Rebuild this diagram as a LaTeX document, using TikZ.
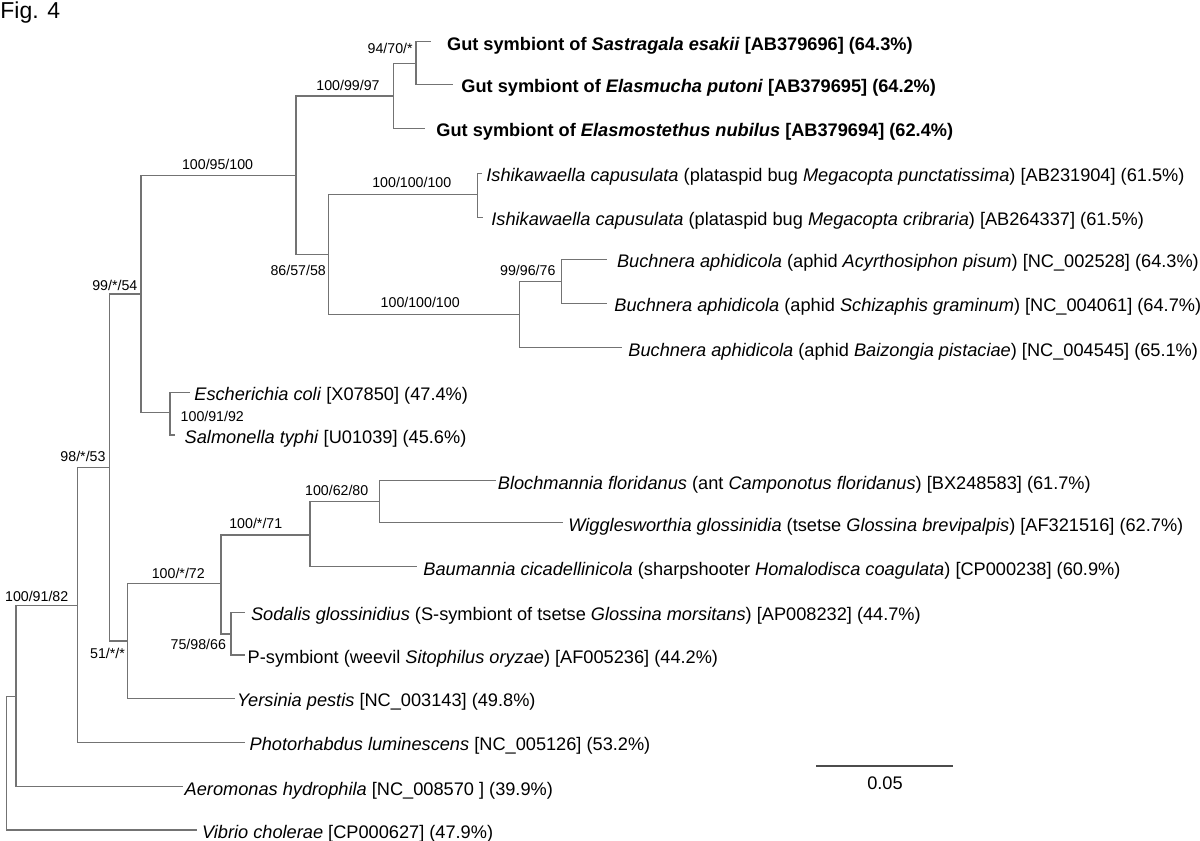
\documentclass[tikz,border=0pt]{standalone}
\usepackage{fontspec}
\setmainfont{Liberation Sans}
\begin{document}
\begin{tikzpicture}[x=0.5pt,y=-0.5pt,
  br/.style={draw=black!55,line width=0.55pt},
  leaf/.style={anchor=base west,inner sep=0pt,font=\fontsize{9.1}{11}\selectfont},
  bs/.style={anchor=base,inner sep=0pt,font=\fontsize{7.1}{8.5}\selectfont},
]
\useasboundingbox (0,0) rectangle (1200,841);
\node[anchor=base west,inner sep=0pt,font=\fontsize{11.5}{13}\selectfont] (fig) at (0,18) {Fig. 4};

% internal nodes
\coordinate (nA) at (416,63.3);
\coordinate (nB) at (393.3,96);
\coordinate (nC) at (477.7,194.3);
\coordinate (nD) at (561.7,281.5);
\coordinate (nE) at (519.3,314.3);
\coordinate (nF) at (328.2,254.3);
\coordinate (nG) at (296,175.2);
\coordinate (nH) at (170,412.7);
\coordinate (nI) at (141,294);
\coordinate (nJ) at (379.3,501.7);
\coordinate (nK) at (310,535);
\coordinate (nL) at (231,634);
\coordinate (nM) at (221,583.3);
\coordinate (nN) at (127.7,641);
\coordinate (nO) at (109.5,467.3);
\coordinate (nP) at (77.3,605.7);
\coordinate (nQ) at (16,696.5);
\coordinate (root) at (6.7,763.3);

% leaf tips
\coordinate (t1) at (430.7,41.7);
\coordinate (t2) at (452.7,84.3);
\coordinate (t3) at (425.3,128.3);
\coordinate (t4) at (481.7,173.3);
\coordinate (t5) at (482.7,217.3);
\coordinate (t6) at (606.7,259.3);
\coordinate (t7) at (606.7,303.3);
\coordinate (t8) at (621.7,347.7);
\coordinate (t9) at (190,392.3);
\coordinate (t10) at (175,435);
\coordinate (t11) at (495.6,480.7);
\coordinate (t12) at (562.6,522.7);
\coordinate (t13) at (416.7,566.7);
\coordinate (t14) at (245,612.3);
\coordinate (t15) at (245,655);
\coordinate (t16) at (235,698.3);
\coordinate (t17) at (245,742.3);
\coordinate (t18) at (182.7,786.7);
\coordinate (t19) at (196.7,830);

% branches
\draw[br] (root) |- (nQ);
\draw[br] (root) |- (t19);
\draw[br] (nQ) |- (nP);
\draw[br] (nQ) |- (t18);
\draw[br] (nP) |- (nO);
\draw[br] (nP) |- (t17);
\draw[br] (nO) |- (nI);
\draw[br] (nO) |- (nN);
\draw[br] (nI) |- (nG);
\draw[br] (nI) |- (nH);
\draw[br] (nG) |- (nB);
\draw[br] (nG) |- (nF);
\draw[br] (nB) |- (nA);
\draw[br] (nB) |- (t3);
\draw[br] (nA) |- (t1);
\draw[br] (nA) |- (t2);
\draw[br] (nF) |- (nC);
\draw[br] (nF) |- (nE);
\draw[br] (nC) |- (t4);
\draw[br] (nC) |- (t5);
\draw[br] (nE) |- (nD);
\draw[br] (nE) |- (t8);
\draw[br] (nD) |- (t6);
\draw[br] (nD) |- (t7);
\draw[br] (nH) |- (t9);
\draw[br] (nH) |- (t10);
\draw[br] (nN) |- (nM);
\draw[br] (nN) |- (t16);
\draw[br] (nM) |- (nK);
\draw[br] (nM) |- (nL);
\draw[br] (nK) |- (nJ);
\draw[br] (nK) |- (t13);
\draw[br] (nJ) |- (t11);
\draw[br] (nJ) |- (t12);
\draw[br] (nL) |- (t14);
\draw[br] (nL) |- (t15);

% leaf labels
\node[leaf] (l1) at (446.7,50.2) {\textbf{Gut symbiont of \textit{Sastragala esakii} [AB379696] (64.3\%)}};
\node[leaf] (l2) at (461,92.8) {\textbf{Gut symbiont of \textit{Elasmucha putoni} [AB379695] (64.2\%)}};
\node[leaf] (l3) at (436,136.8) {\textbf{Gut symbiont of \textit{Elasmostethus nubilus} [AB379694] (62.4\%)}};
\node[leaf] (l4) at (486,181.8) {\textit{Ishikawaella capusulata} (plataspid bug \textit{Megacopta punctatissima}) [AB231904] (61.5\%)};
\node[leaf] (l5) at (491,225.8) {\textit{Ishikawaella capusulata} (plataspid bug \textit{Megacopta cribraria}) [AB264337] (61.5\%)};
\node[leaf] (l6) at (616.7,267.8) {\textit{Buchnera aphidicola} (aphid \textit{Acyrthosiphon pisum}) [NC\_002528] (64.3\%)};
\node[leaf] (l7) at (614,311.8) {\textit{Buchnera aphidicola} (aphid \textit{Schizaphis graminum}) [NC\_004061] (64.7\%)};
\node[leaf] (l8) at (628,356.2) {\textit{Buchnera aphidicola} (aphid \textit{Baizongia pistaciae}) [NC\_004545] (65.1\%)};
\node[leaf] (l9) at (194,400.8) {\textit{Escherichia coli} [X07850] (47.4\%)};
\node[leaf] (l10) at (184.3,443.5) {\textit{Salmonella typhi} [U01039] (45.6\%)};
\node[leaf] (l11) at (497.5,489.2) {\textit{Blochmannia floridanus} (ant \textit{Camponotus floridanus}) [BX248583] (61.7\%)};
\node[leaf] (l12) at (568,531.2) {\textit{Wigglesworthia glossinidia} (tsetse \textit{Glossina brevipalpis}) [AF321516] (62.7\%)};
\node[leaf] (l13) at (423,575.2) {\textit{Baumannia cicadellinicola} (sharpshooter \textit{Homalodisca coagulata}) [CP000238] (60.9\%)};
\node[leaf] (l14) at (250.7,620.8) {\textit{Sodalis glossinidius} (S-symbiont of tsetse \textit{Glossina morsitans}) [AP008232] (44.7\%)};
\node[leaf] (l15) at (247.3,663.5) {P-symbiont (weevil \textit{Sitophilus oryzae}) [AF005236] (44.2\%)};
\node[leaf] (l16) at (236.7,706.8) {\textit{Yersinia pestis} [NC\_003143] (49.8\%)};
\node[leaf] (l17) at (249.3,750.8) {\textit{Photorhabdus luminescens} [NC\_005126] (53.2\%)};
\node[leaf] (l18) at (184.3,795.2) {\textit{Aeromonas hydrophila} [NC\_008570 ] (39.9\%)};
\node[leaf] (l19) at (201.7,838.5) {\textit{Vibrio cholerae} [CP000627] (47.9\%)};

% bootstrap labels
\node[bs] (bA) at (390.2,53.6) {94/70/*};
\node[bs] (bB) at (348,90.1) {100/99/97};
\node[bs] (bG) at (217.6,169.1) {100/95/100};
\node[bs] (bC) at (411.8,187.8) {100/100/100};
\node[bs] (bF) at (298.2,275.1) {86/57/58};
\node[bs] (bD) at (527.8,275.1) {99/96/76};
\node[bs] (bE) at (420.2,307.4) {100/100/100};
\node[bs] (bI) at (114.8,290.1) {99/*/54};
\node[bs] (bH) at (212.3,421.8) {100/91/92};
\node[bs] (bO) at (83,461.1) {98/*/53};
\node[bs] (bJ) at (336.7,495.1) {100/62/80};
\node[bs] (bK) at (255.8,528.4) {100/*/71};
\node[bs] (bM) at (178.3,578.4) {100/*/72};
\node[bs] (bL) at (198.3,649.1) {75/98/66};
\node[bs] (bN) at (107.5,658.4) {51/*/*};
\node[bs] (bP) at (36.7,601.8) {100/91/82};

% scale bar
\coordinate (s1) at (816,766);
\coordinate (s2) at (953,766);
\draw[draw=black!70,line width=0.55pt] (s1) -- (s2);
\node[anchor=base,inner sep=0pt,font=\fontsize{9.1}{11}\selectfont] (scale) at (885,789.8) {0.05};
\end{tikzpicture}
\end{document}
